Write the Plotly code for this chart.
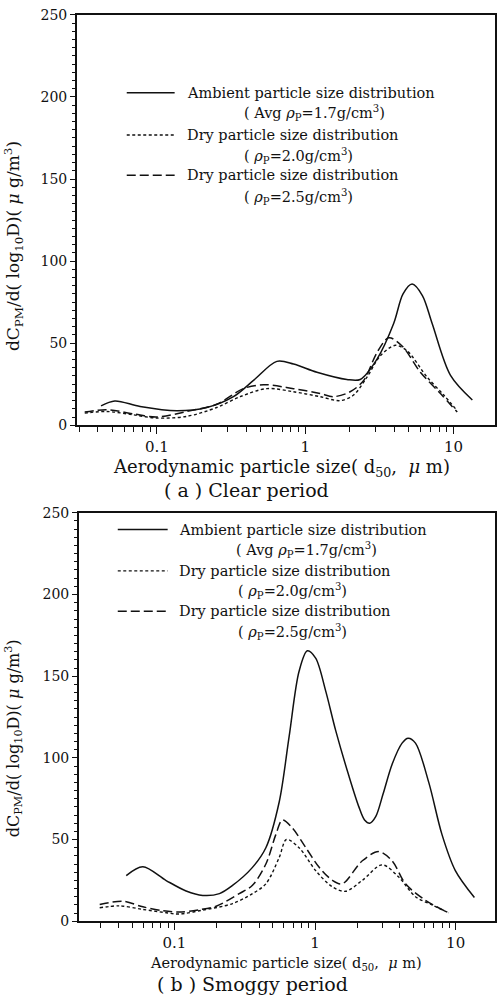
import plotly.graph_objects as go

# ---------------- data ----------------
# (a) Clear period
clear_amb_x = [0.042, 0.052, 0.077, 0.136, 0.217, 0.328, 0.448, 0.644, 0.834, 1.2, 1.91, 2.35, 3.05, 3.95, 4.57, 5.26, 6.17, 7.18, 9.55, 13.4]
clear_amb_y = [11.8, 14.8, 11.4, 8.8, 10.8, 17.4, 27.3, 38.9, 37.3, 32.3, 27.9, 27.9, 40.3, 62.0, 80.0, 86.0, 79.0, 62.0, 30.4, 15.4]

clear_d20_x = [0.0326, 0.0457, 0.069, 0.0995, 0.159, 0.253, 0.364, 0.551, 0.834, 1.26, 1.72, 2.12, 2.61, 3.21, 4.06, 4.87, 6.64, 8.6, 10.6]
clear_d20_y = [7.4, 8.4, 6.4, 4.4, 5.4, 10.8, 17.4, 22.3, 20.4, 17.4, 15.0, 18.4, 29.3, 42.3, 48.7, 45.3, 29.3, 18.4, 8.8]

clear_d25_x = [0.0326, 0.0457, 0.069, 0.0995, 0.159, 0.253, 0.383, 0.523, 0.834, 1.26, 1.55, 2.01, 2.48, 3.05, 3.66, 4.5, 5.98, 8.17, 10.6]
clear_d25_y = [8.0, 9.5, 7.0, 5.0, 8.4, 12.8, 22.3, 24.7, 22.3, 19.4, 17.4, 20.4, 27.3, 44.3, 53.3, 48.3, 32.3, 19.3, 8.0]

# (b) Smoggy period
smog_amb_x = [0.0454, 0.0596, 0.0873, 0.121, 0.159, 0.209, 0.259, 0.355, 0.447, 0.556, 0.654, 0.77, 0.882, 1.01, 1.19, 1.4, 1.74, 2.05, 2.25, 2.45, 2.7, 3.05, 3.53, 4.16, 4.59, 5.18, 6.44, 8.0, 9.95, 13.6]
smog_amb_y = [27.9, 33.3, 24.9, 18.5, 15.8, 16.9, 21.9, 32.5, 45.0, 73.0, 113.0, 153.0, 165.5, 161.0, 141.0, 117.0, 89.0, 70.0, 62.0, 60.0, 64.0, 78.0, 96.0, 109.0, 112.0, 109.0, 85.0, 53.0, 31.0, 14.5]

smog_d20_x = [0.0294, 0.0407, 0.0596, 0.0873, 0.108, 0.159, 0.259, 0.359, 0.447, 0.556, 0.626, 0.77, 1.01, 1.33, 1.65, 2.17, 3.0, 3.94, 5.18, 6.79, 8.9]
smog_d20_y = [8.2, 9.4, 7.2, 5.2, 4.4, 6.8, 10.8, 16.9, 22.9, 39.0, 50.0, 45.0, 31.0, 21.0, 18.3, 25.0, 34.5, 27.0, 15.0, 10.0, 5.2]

smog_d25_x = [0.0294, 0.043, 0.0596, 0.083, 0.108, 0.15, 0.198, 0.289, 0.359, 0.447, 0.526, 0.586, 0.69, 0.86, 1.07, 1.33, 1.56, 2.17, 2.84, 3.53, 4.4, 6.1, 8.9]
smog_d25_y = [10.2, 12.2, 8.8, 6.4, 5.6, 7.0, 9.2, 16.9, 22.0, 35.0, 53.0, 62.0, 57.0, 45.0, 33.0, 25.0, 22.9, 37.0, 42.6, 37.0, 22.9, 12.8, 5.2]

x_major_ticks = [0.1, 1, 10]
x_major_text = ["0.1", "1", "10"]
x_minor_ticks = [0.03, 0.04, 0.05, 0.06, 0.07, 0.08, 0.09,
                 0.2, 0.3, 0.4, 0.5, 0.6, 0.7, 0.8, 0.9,
                 2, 3, 4, 5, 6, 7, 8, 9, 20]
y_ticks = [0, 50, 100, 150, 200, 250]

legend_main = ["Ambient particle size distribution",
               "Dry particle size distribution",
               "Dry particle size distribution"]
legend_sub = ["( Avg <i>ρ</i><sub>P</sub>=1.7g/cm<sup>3</sup>)",
              "( <i>ρ</i><sub>P</sub>=2.0g/cm<sup>3</sup>)",
              "( <i>ρ</i><sub>P</sub>=2.5g/cm<sup>3</sup>)"]

y_title = "dC<sub>PM</sub>/d( log<sub>10</sub>D)( <i>μ</i> g/m<sup>3</sup>)"
x_title = "Aerodynamic particle size( d<sub>50</sub>,  <i>μ</i> m)"
captions = ["( a ) Clear period", "( b ) Smoggy period"]

# ---------------- figure ----------------
W, H = 497, 1004
FONT = "DejaVu Serif"
BLACK = "#111111"

def px(x):
    return x / W

def py(y):
    return 1 - y / H

styles = [dict(dash="solid", width=1.5), dict(dash="3px,2.5px", width=1.4), dict(dash="9px,4px", width=1.5)]

fig = go.Figure()

series_top = [(clear_amb_x, clear_amb_y), (clear_d20_x, clear_d20_y), (clear_d25_x, clear_d25_y)]
series_bot = [(smog_amb_x, smog_amb_y), (smog_d20_x, smog_d20_y), (smog_d25_x, smog_d25_y)]

for (xs, ys), st in zip(series_top, styles):
    fig.add_trace(go.Scatter(x=xs, y=ys, mode="lines", xaxis="x", yaxis="y",
                             line=dict(color=BLACK, shape="spline", smoothing=0.9, **st),
                             showlegend=False, hoverinfo="skip"))
for (xs, ys), st in zip(series_bot, styles):
    fig.add_trace(go.Scatter(x=xs, y=ys, mode="lines", xaxis="x2", yaxis="y2",
                             line=dict(color=BLACK, shape="spline", smoothing=0.9, **st),
                             showlegend=False, hoverinfo="skip"))

common_x = dict(type="log", showline=True, linecolor=BLACK, linewidth=1.5, mirror=True,
                ticks="outside", ticklen=7, tickwidth=1.3, tickcolor=BLACK,
                tickvals=x_major_ticks, ticktext=x_major_text, showgrid=False, zeroline=False,
                tickfont=dict(family=FONT, size=15, color=BLACK),
                minor=dict(tickvals=x_minor_ticks, ticks="outside", ticklen=5, tickwidth=1.2,
                           tickcolor=BLACK, showgrid=False))
common_y = dict(range=[0, 250], showline=True, linecolor=BLACK, linewidth=1.5, mirror=True,
                ticks="outside", ticklen=5, tickwidth=1.3, tickcolor=BLACK,
                tickvals=y_ticks, showgrid=False, zeroline=False,
                tickfont=dict(family=FONT, size=14, color=BLACK),
                minor=dict(dtick=5, ticks="outside", ticklen=3, tickwidth=1, tickcolor=BLACK,
                           showgrid=False))

fig.update_layout(
    width=W, height=H, margin=dict(l=0, r=0, t=0, b=0),
    paper_bgcolor="white", plot_bgcolor="white",
    xaxis=dict(domain=[px(77), px(496)], range=[-1.54, 1.28], anchor="y", **common_x),
    yaxis=dict(domain=[py(424), py(7)], anchor="x", **common_y),
    xaxis2=dict(domain=[px(79), px(496)], range=[-1.68, 1.28], anchor="y2", **common_x),
    yaxis2=dict(domain=[py(928), py(513)], anchor="x2", **common_y),
    font=dict(family=FONT, color=BLACK),
)

annotations = []
shapes = []

def add_legend(line_x0, line_x1, text_x, sub_x, row_y, fs):
    for i in range(3):
        y_main = row_y[2 * i]
        y_sub = row_y[2 * i + 1]
        shapes.append(dict(type="line", xref="paper", yref="paper",
                           x0=px(line_x0), x1=px(line_x1), y0=py(y_main), y1=py(y_main),
                           line=dict(color=BLACK, **styles[i])))
        annotations.append(dict(text=legend_main[i], xref="paper", yref="paper",
                                x=px(text_x), y=py(y_main), xanchor="left", yanchor="middle",
                                showarrow=False, font=dict(family=FONT, size=fs, color=BLACK)))
        annotations.append(dict(text=legend_sub[i], xref="paper", yref="paper",
                                x=px(sub_x[i]), y=py(y_sub), xanchor="left", yanchor="middle",
                                showarrow=False, font=dict(family=FONT, size=fs, color=BLACK)))

add_legend(127, 175, 185, [242, 242, 242], [86, 107, 129, 150, 170, 192], 14.5)
add_legend(118, 168, 177, [234, 236, 236], [530, 551, 572, 592, 613, 634], 14.5)

# axis titles
annotations.append(dict(text=y_title, xref="paper", yref="paper", x=px(13), y=py(242),
                        textangle=-90, showarrow=False, xanchor="center", yanchor="middle",
                        font=dict(family=FONT, size=17, color=BLACK)))
annotations.append(dict(text=y_title, xref="paper", yref="paper", x=px(13), y=py(742),
                        textangle=-90, showarrow=False, xanchor="center", yanchor="middle",
                        font=dict(family=FONT, size=16, color=BLACK)))
annotations.append(dict(text=x_title, xref="paper", yref="paper", x=px(282), y=py(467),
                        showarrow=False, xanchor="center", yanchor="middle",
                        font=dict(family=FONT, size=18, color=BLACK)))
annotations.append(dict(text=x_title, xref="paper", yref="paper", x=px(287), y=py(971),
                        showarrow=False, xanchor="center", yanchor="middle",
                        font=dict(family=FONT, size=14.5, color=BLACK)))
annotations.append(dict(text=captions[0], xref="paper", yref="paper", x=px(247), y=py(490),
                        showarrow=False, xanchor="center", yanchor="middle",
                        font=dict(family=FONT, size=19, color=BLACK)))
annotations.append(dict(text=captions[1], xref="paper", yref="paper", x=px(253), y=py(992),
                        showarrow=False, xanchor="center", yanchor="middle",
                        font=dict(family=FONT, size=19, color=BLACK)))

fig.update_layout(annotations=annotations, shapes=shapes)
fig.write_html("out.html")
